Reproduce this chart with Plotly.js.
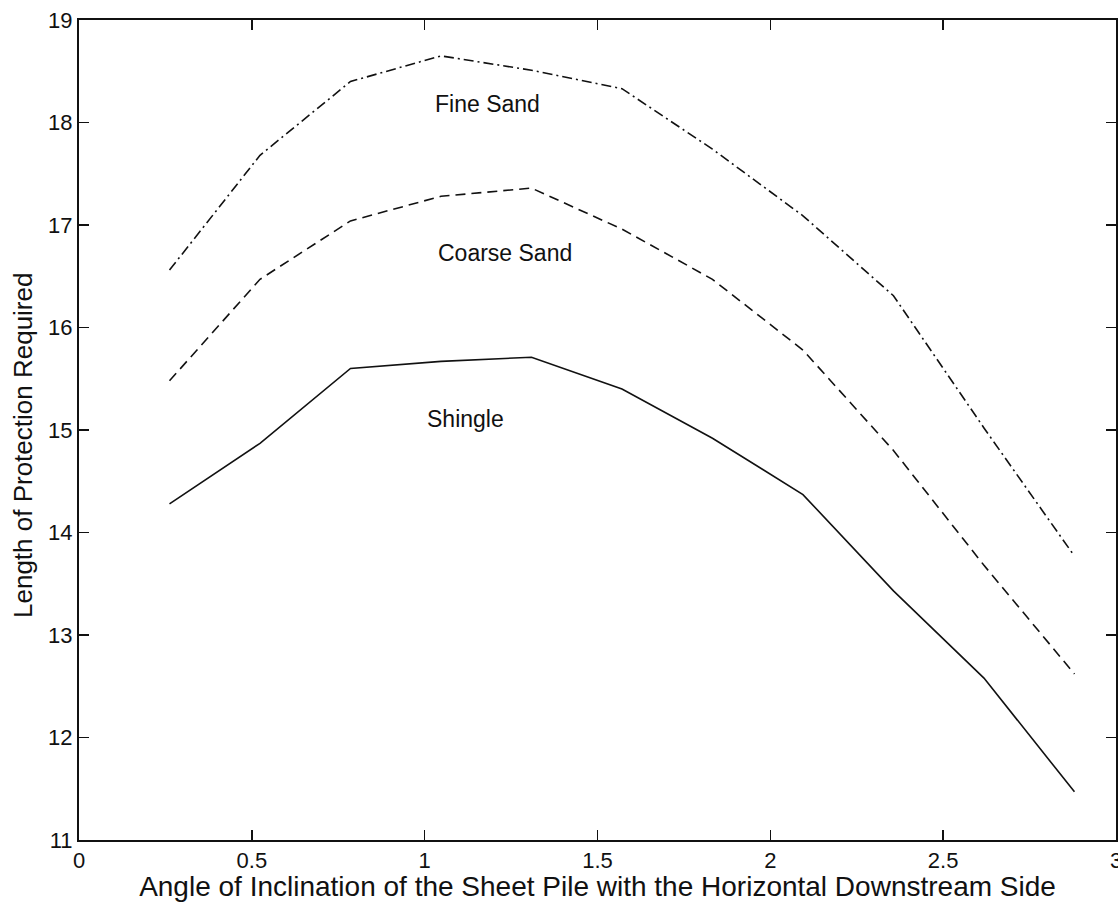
<!DOCTYPE html>
<html>
<head>
<meta charset="utf-8">
<script src="https://cdn.plot.ly/plotly-3.0.1.min.js"></script>
<style>html,body{margin:0;padding:0;background:#fff;}</style>
</head>
<body>
<div id="chart" style="width:1118px;height:902px;"></div>
<script>
const angles = [0.2618, 0.5236, 0.7854, 1.0472, 1.3090, 1.5708, 1.8326, 2.0944, 2.3562, 2.6180, 2.8798];
const fineSand = [16.56, 17.68, 18.40, 18.65, 18.51, 18.33, 17.74, 17.09, 16.31, 15.02, 13.77];
const coarseSand = [15.48, 16.47, 17.04, 17.28, 17.36, 16.96, 16.47, 15.78, 14.80, 13.68, 12.62];
const shingle = [14.28, 14.87, 15.60, 15.67, 15.71, 15.40, 14.92, 14.37, 13.43, 12.58, 11.47];
const labels = ["Fine Sand", "Coarse Sand", "Shingle"];
const labelX = [1.183, 1.232, 1.117];
const labelY = [18.18, 16.73, 15.11];
const xTicks = [0, 0.5, 1, 1.5, 2, 2.5, 3];
const xTickText = ['0', '0.5', '1', '1.5', '2', '2.5', '3'];
const yTicks = [11, 12, 13, 14, 15, 16, 17, 18, 19];
const xTitle = 'Angle of Inclination of the Sheet Pile with the Horizontal Downstream Side';
const yTitle = 'Length of Protection Required';

const lineBase = {color: '#111', width: 1.6};
const traces = [
  {x: angles, y: fineSand, mode: 'lines', name: labels[0], line: Object.assign({}, lineBase, {dash: '10px,4px,2px,4px'})},
  {x: angles, y: coarseSand, mode: 'lines', name: labels[1], line: Object.assign({}, lineBase, {dash: '10px,6px'})},
  {x: angles, y: shingle, mode: 'lines', name: labels[2], line: Object.assign({}, lineBase, {dash: 'solid'})}
];

const fontFam = 'Liberation Sans, Arial, sans-serif';
const annotations = labels.map((t, i) => ({
  x: labelX[i], y: labelY[i], xref: 'x', yref: 'y', text: t, showarrow: false,
  font: {size: 23, family: fontFam, color: '#111'}
}));
annotations.push({
  x: 23, y: 446, xref: 'paper', yref: 'paper', text: yTitle, showarrow: false, textangle: -90,
  font: {size: 26, family: fontFam, color: '#111'}
});
// convert pixel position of y title to paper coords
annotations[3].xref = 'paper'; annotations[3].yref = 'paper';
annotations[3].x = (23 - 79) / (1118 - 79 - 2);
annotations[3].y = (902 - 62 - 446) / (902 - 20 - 62);
annotations[3].xanchor = 'center'; annotations[3].yanchor = 'middle';

const layout = {
  width: 1118, height: 902,
  margin: {l: 79, r: 2, t: 20, b: 62},
  paper_bgcolor: '#fff', plot_bgcolor: '#fff',
  showlegend: false,
  font: {family: fontFam, color: '#111', size: 20},
  xaxis: {
    range: [0, 3], tickvals: xTicks, ticktext: xTickText,
    ticks: 'inside', ticklen: 10, tickwidth: 1.5, tickcolor: '#111',
    showline: true, linecolor: '#111', linewidth: 2, mirror: 'ticks',
    showgrid: false, zeroline: false, ticklabeloverflow: 'allow',
    tickfont: {size: 22, family: fontFam},
    title: {text: xTitle, font: {size: 28, family: fontFam}, standoff: 1},
    automargin: false
  },
  yaxis: {
    range: [11, 19], tickvals: yTicks,
    ticks: 'inside', ticklen: 10, tickwidth: 1.5, tickcolor: '#111',
    showline: true, linecolor: '#111', linewidth: 2, mirror: 'ticks',
    showgrid: false, zeroline: false, ticklabeloverflow: 'allow',
    tickfont: {size: 22, family: fontFam},
    automargin: false
  },
  annotations: annotations
};

Plotly.newPlot('chart', traces, layout, {displayModeBar: false, staticPlot: true});
</script>
</body>
</html>
